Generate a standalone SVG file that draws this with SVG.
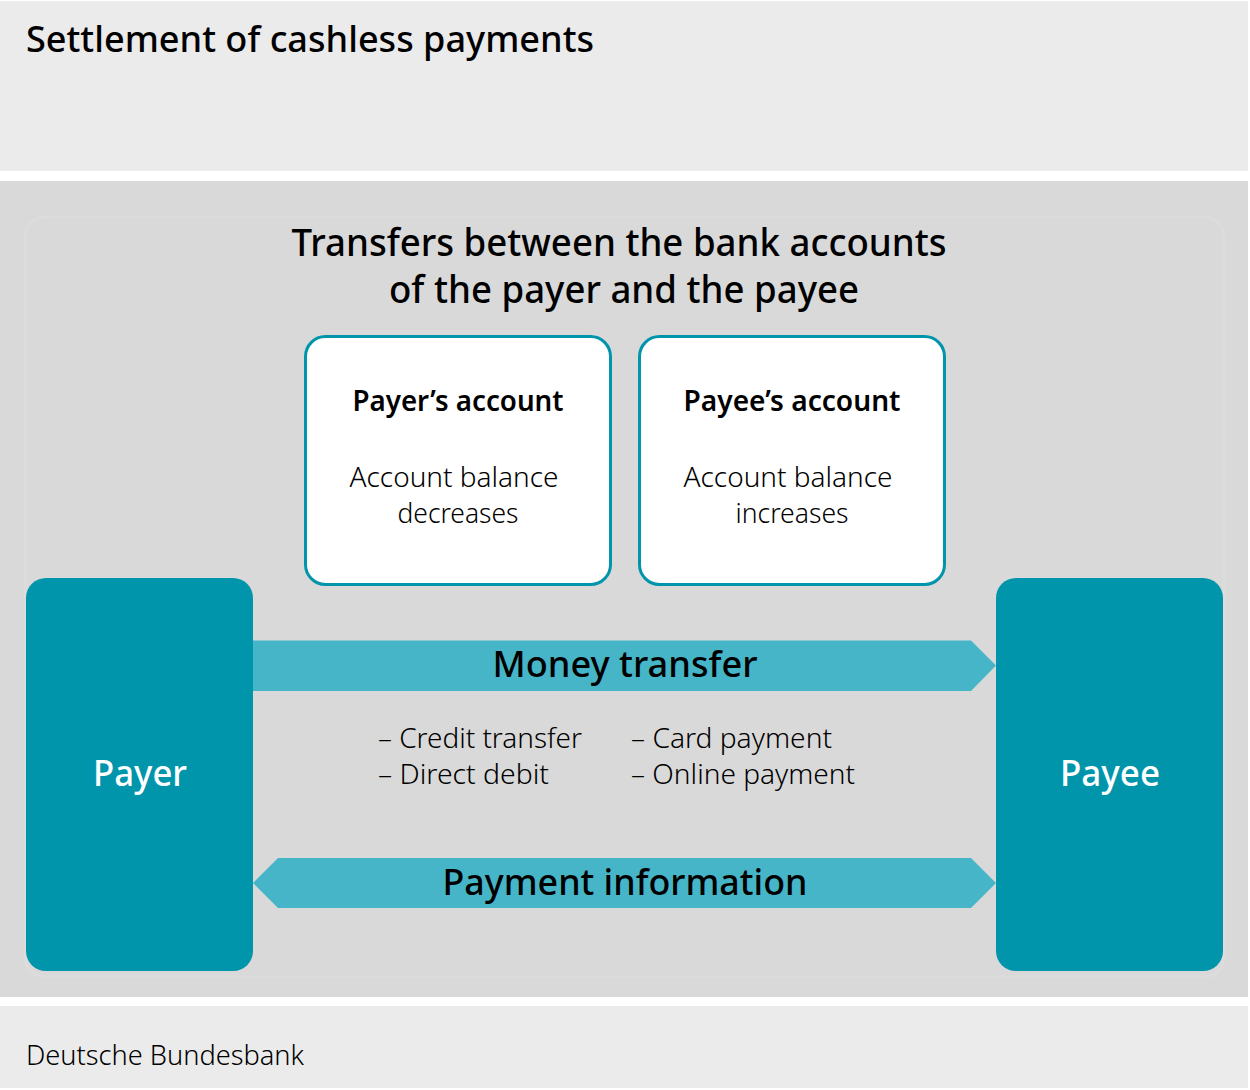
<svg xmlns="http://www.w3.org/2000/svg" width="1250" height="1090" viewBox="0 0 1250 1090">
<style>
text{font-family:"Noto Sans","Open Sans","Liberation Sans",sans-serif;fill:#000}
.band{fill:#ebebeb}
.panel{fill:#d9d9d9}
.party{fill:#0095ab}
.party text{fill:#fff;font-size:36px;font-weight:500;text-anchor:middle}
.acct rect{fill:#fff;stroke:#0095ab;stroke-width:3}
.acct text{text-anchor:middle;font-size:28px;font-weight:300}
.acct .h{font-weight:600}
.flow{fill:#45b5c7}
.flowlbl{font-size:36px;font-weight:500;text-anchor:middle}
.item{font-size:28px;font-weight:300}
.med{font-weight:500}
.light{font-weight:300}
</style>
<rect width="1250" height="1090" fill="#fff"/>
<rect class="band" x="0" y="1" width="1248" height="170"/>
<rect class="panel" x="0" y="181" width="1248" height="816"/>
<rect class="band" x="0" y="1006" width="1248" height="82"/>
<rect x="25" y="217" width="1199" height="760" rx="20" fill="none" stroke="#dcdcdc" stroke-width="3"/>
<text class="med" x="26" y="52" font-size="36" textLength="568" lengthAdjust="spacingAndGlyphs">Settlement of cashless payments</text>
<g id="heading">
<text class="med" x="619" y="256" font-size="38" text-anchor="middle" textLength="655" lengthAdjust="spacingAndGlyphs">Transfers between the bank accounts</text>
<text class="med" x="624" y="303" font-size="38" text-anchor="middle" textLength="470" lengthAdjust="spacingAndGlyphs">of the payer and the payee</text>
</g>
<g id="payer-account" class="acct">
<rect x="305.5" y="336.5" width="305" height="248" rx="20"/>
<text class="h" x="458" y="411" textLength="211" lengthAdjust="spacingAndGlyphs">Payer’s account</text>
<text x="454" y="487" textLength="209" lengthAdjust="spacingAndGlyphs">Account balance</text>
<text x="458" y="523" textLength="121" lengthAdjust="spacingAndGlyphs">decreases</text>
</g>
<g id="payee-account" class="acct">
<rect x="639.5" y="336.5" width="305" height="248" rx="20"/>
<text class="h" x="792" y="411" textLength="217" lengthAdjust="spacingAndGlyphs">Payee’s account</text>
<text x="788" y="487" textLength="209" lengthAdjust="spacingAndGlyphs">Account balance</text>
<text x="792" y="523" textLength="113" lengthAdjust="spacingAndGlyphs">increases</text>
</g>
<g id="payer" class="party">
<rect x="26" y="578" width="227" height="393" rx="20"/>
<text x="140" y="786" textLength="94" lengthAdjust="spacingAndGlyphs">Payer</text>
</g>
<g id="payee" class="party">
<rect x="996" y="578" width="227" height="393" rx="20"/>
<text x="1110" y="786" textLength="100" lengthAdjust="spacingAndGlyphs">Payee</text>
</g>
<g id="connectors">
<g id="money-transfer">
<polygon class="flow" points="253,640.5 971,640.5 996,665.5 971,691 253,691"/>
<text class="flowlbl" x="625" y="677" textLength="265" lengthAdjust="spacingAndGlyphs">Money transfer</text>
</g>
<g id="payment-information">
<polygon class="flow" points="253,883 278,858 971,858 996,883 971,908 278,908"/>
<text class="flowlbl" x="625" y="895" textLength="365" lengthAdjust="spacingAndGlyphs">Payment information</text>
</g>
</g>
<g id="methods">
<text class="item" x="378" y="748" textLength="204" lengthAdjust="spacingAndGlyphs">– Credit transfer</text>
<text class="item" x="378" y="784" textLength="171" lengthAdjust="spacingAndGlyphs">– Direct debit</text>
<text class="item" x="631" y="748" textLength="201" lengthAdjust="spacingAndGlyphs">– Card payment</text>
<text class="item" x="631" y="784" textLength="224" lengthAdjust="spacingAndGlyphs">– Online payment</text>
</g>
<text class="light" x="26" y="1065" font-size="27" textLength="278" lengthAdjust="spacingAndGlyphs">Deutsche Bundesbank</text>
</svg>
